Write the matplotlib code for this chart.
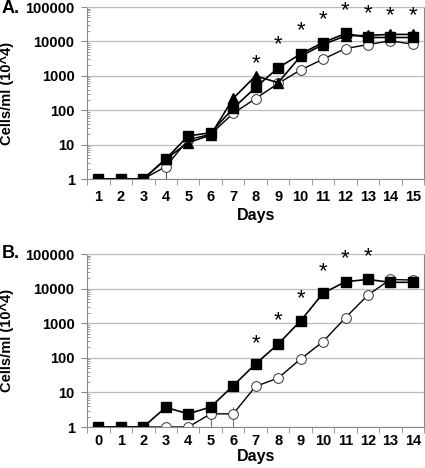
import numpy as np
import matplotlib.pyplot as plt
from matplotlib.ticker import LogLocator, NullFormatter, FixedLocator

plt.rcParams['font.family'] = ['Liberation Sans', 'DejaVu Sans']
plt.rcParams['font.weight'] = 'bold'

# panel A
days_a = list(range(1, 16))
sq_a = [1, 1, 1, 3.8, 18, 22, 114, 460, 1700, 4300, 9300, 17000, 13000, 13000, 13000]
tri_a = [1, 1, 1, 3.8, 11.5, 19, 220, 1000, 630, 3700, 8100, 14500, 15000, 16000, 16000]
circ_a = [1, 1, 1, 2.3, 14, 20, 81, 218, 600, 1480, 3050, 6200, 8100, 10400, 8300]
star_days_a = [8, 9, 10, 11, 12, 13, 14, 15]
star_y_a = [2300, 8100, 21000, 43000, 80000, 65000, 55000, 55000]

# panel B
days_b = list(range(0, 15))
sq_b = [1, 1, 1, 3.7, 2.4, 3.8, 15.6, 67, 250, 1170, 7400, 16000, 18500, 15300, 15300]
circ_b = [1, 1, 1, 1, 1, 2.4, 2.4, 15, 26, 92, 295, 1450, 6600, 18500, 17800]
star_days_b = [7, 8, 9, 10, 11, 12]
star_y_b = [250, 1200, 5300, 31000, 75000, 87000]


def style_axes(ax, days, xpad, xlabpad):
    ax.set_yscale('log')
    ax.set_ylim(1, 100000)
    ax.set_xlim(days[0] - 0.5, days[-1] + 0.5)
    ax.set_yticks([1, 10, 100, 1000, 10000, 100000])
    ax.set_yticklabels(['1', '10', '100', '1000', '10000', '100000'])
    ax.yaxis.set_minor_locator(LogLocator(base=10, subs=np.arange(2, 10), numticks=20))
    ax.yaxis.set_minor_formatter(NullFormatter())
    ax.set_xticks(days)
    ax.set_xticklabels([str(d) for d in days])
    ax.xaxis.set_minor_locator(FixedLocator(np.arange(days[0] - 0.5, days[-1] + 1, 1)))
    ax.tick_params(axis='x', which='major', length=0, labelsize=10.5, pad=xpad)
    ax.tick_params(axis='x', which='minor', length=4, color='#888888', direction='out')
    ax.tick_params(axis='y', which='major', length=4, labelsize=10.5, color='#888888', pad=5)
    ax.tick_params(axis='y', which='minor', length=2, color='#888888', direction='in')
    ax.grid(True, axis='y', which='major', color='#bbbbbb', lw=0.9)
    ax.set_axisbelow(True)
    for s in ['left', 'bottom', 'right']:
        ax.spines[s].set_color('#888888')
    ax.spines['top'].set_color('#bbbbbb')
    for lab in ax.get_xticklabels() + ax.get_yticklabels():
        lab.set_fontweight('bold')
    ax.set_xlabel('Days', fontsize=11.5, fontweight='bold', labelpad=xlabpad)
    ax.set_ylabel('Cells/ml (10^4)', fontsize=10.5, fontweight='bold', labelpad=8)


fig = plt.figure(figsize=(4.25, 4.68), dpi=100)
axA = fig.add_axes([0.205, 0.6175, 0.793, 0.3675])
axB = fig.add_axes([0.205, 0.0876, 0.793, 0.3694])

# panel A
axA.errorbar([4], [2.3], yerr=[[1.3], [0]], fmt='none', ecolor='#555555', lw=0.8)
axA.plot(days_a, circ_a, '-o', color='black', mfc='white', mec='#333333', ms=7, lw=1, mew=0.7)
axA.plot(days_a, tri_a, '-^', color='black', ms=7.5, lw=1.2)
axA.plot(days_a, sq_a, '-s', color='black', ms=7.5, lw=1.2)
for d, y in zip(star_days_a, star_y_a):
    axA.text(d, y, '*', ha='center', va='center', fontsize=16, fontweight='normal')
style_axes(axA, days_a, 8, 3)

# panel B
axB.errorbar([5, 6], [2.4, 2.4], yerr=[[1.4, 1.4], [0, 1.4]], fmt='none', ecolor='#777777', lw=0.8)
axB.errorbar([4, 6], [2.4, 15.6], yerr=[[0, 0], [0.8, 3]], fmt='none', ecolor='#555555', lw=0.8)
axB.plot(days_b, circ_b, '-o', color='black', mfc='white', mec='#333333', ms=7, lw=1, mew=0.7)
axB.plot(days_b, sq_b, '-s', color='black', ms=7.5, lw=1.2)
for d, y in zip(star_days_b, star_y_b):
    axB.text(d, y, '*', ha='center', va='center', fontsize=16, fontweight='normal')
style_axes(axB, days_b, 5, 0.5)

fig.text(0.003, 0.981, 'A.', fontsize=13, fontweight='bold', va='center')
fig.text(0.003, 0.459, 'B.', fontsize=13, fontweight='bold', va='center')

fig.savefig('out.png', dpi=100)
